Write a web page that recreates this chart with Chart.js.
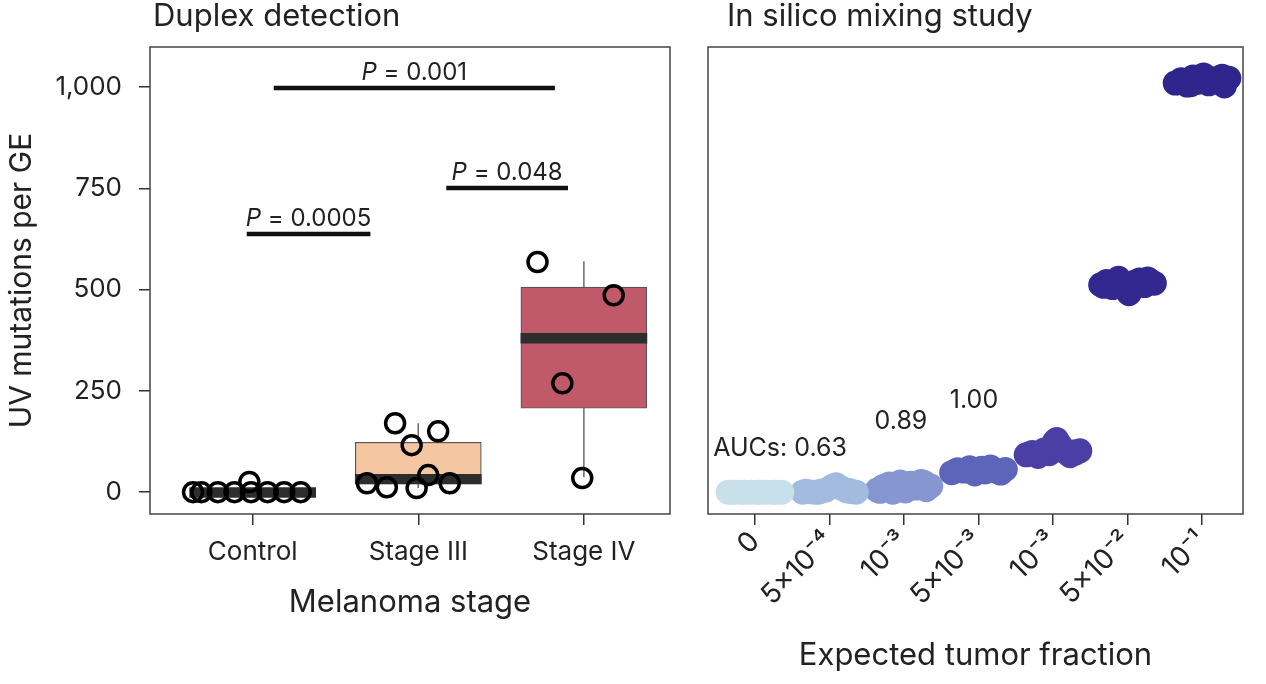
<!DOCTYPE html>
<html>
<head>
<meta charset="utf-8">
<script src="https://cdn.jsdelivr.net/npm/chart.js@4.4.1/dist/chart.umd.min.js"></script>
<style>
  html, body { margin: 0; background: #fff; }
  #wrap { position: relative; width: 1266px; height: 684px; }
  .panel { position: absolute; top: 0; height: 684px; }
  #left { left: 0; width: 690px; }
  #right { left: 690px; width: 576px; }
</style>
</head>
<body>
<div id="wrap">
  <div class="panel" id="left"><canvas id="leftChart"></canvas></div>
  <div class="panel" id="right"><canvas id="rightChart"></canvas></div>
</div>
<script>
// ---- left panel: duplex detection ----
const stages = ['Control', 'Stage III', 'Stage IV'];
const yTicks = [0, 250, 500, 750, 1000];

// jittered sample points (x in category units, 1 = Control)
const controlX = [0.64, 0.69, 0.79, 0.89, 0.98, 0.99, 1.09, 1.19, 1.29];
const controlY = [0, 0, 0, 0, 25, 0, 0, 0, 0];
const stage3X = [1.86, 2.12, 1.96, 2.06, 1.69, 1.81, 1.99, 2.19];
const stage3Y = [170, 150, 116, 42, 22, 12, 10, 22];
const stage4X = [2.72, 3.18, 2.87, 2.99];
const stage4Y = [568, 486, 269, 35];

// box summaries
const boxLow = [0, 20, 207];
const boxHigh = [5, 123, 506];
const medians = [-1, 32, 380];
const whiskerMin = [0, 10, 37];
const whiskerMax = [5, 170, 570];

// significance brackets
const pValues = ['0.0005', '0.048', '0.001'];
const pFrom = [0.964, 2.169, 1.127];
const pTo = [1.711, 2.904, 2.825];
const pLevel = [637, 751, 998];

// ---- right panel: in silico mixing ----
const fractions = ['0', '5×10⁻⁴', '10⁻³', '5×10⁻³', '10⁻³', '5×10⁻²', '10⁻¹'];
const jitter = [-0.36, -0.28, -0.2, -0.12, -0.05, 0.02, 0.09, 0.16, 0.23, 0.3, 0.36, -0.32, 0.27, 0.05, -0.15];
const mix0 = [0, 0, 0, 0, 0, 0, 0, 0, 0, 0, 0, 0, 0, 0, 0];
const mix1 = [0, 1, 0, 2, 5, 12, 18, 10, 3, 1, 0, 2, 4, 15, 0];
const mix2 = [5, 14, 20, 8, 25, 3, 22, 10, 26, 6, 15, 2, 24, 18, 0];
const mix3 = [48, 55, 52, 60, 45, 58, 50, 62, 54, 47, 56, 51, 49, 59, 53];
const mix4 = [92, 98, 88, 104, 95, 125, 118, 100, 90, 96, 102, 94, 99, 130, 97];
const mix5 = [512, 520, 505, 528, 515, 490, 518, 524, 510, 522, 516, 508, 526, 500, 519];
const mix6 = [1010, 1018, 1005, 1025, 1012, 1030, 1008, 1020, 1015, 1003, 1022, 1011, 1027, 1016, 1006];
const aucLabels = ['AUCs: 0.63', '0.89', '1.00'];

const FONT = 'Inter, "Open Sans", sans-serif';
const INK = '#222';
const boxColors = ['#d0d0d0', '#f4c6a2', '#c05a6b'];
const mixColors = ['#c8e0ea', '#a4bbe0', '#8696d0', '#5d65ba', '#4b3fa6', '#33288f', '#2f268d'];

const toPts = (xs, ys) => xs.map((x, i) => ({ x: x, y: ys[i] }));

const framePlugin = {
  id: 'frame',
  afterDatasetsDraw(chart) {
    const { ctx, chartArea: a } = chart;
    ctx.save();
    ctx.strokeStyle = '#444';
    ctx.lineWidth = 1.5;
    ctx.strokeRect(a.left, a.top, a.right - a.left, a.bottom - a.top);
    ctx.restore();
  }
};

function panelTitle(text, dx) {
  return {
    id: 'panelTitle',
    afterDraw(chart) {
      const ctx = chart.ctx;
      ctx.save();
      ctx.font = '31px ' + FONT;
      ctx.fillStyle = INK;
      ctx.textBaseline = 'middle';
      ctx.fillText(text, chart.chartArea.left + dx, 17);
      ctx.restore();
    }
  };
}

const pTextPlugin = {
  id: 'pText',
  afterDatasetsDraw(chart) {
    const { ctx, scales } = chart;
    ctx.save();
    ctx.fillStyle = INK;
    ctx.textBaseline = 'alphabetic';
    pValues.forEach((p, i) => {
      const cx = scales.x.getPixelForValue((pFrom[i] + pTo[i]) / 2);
      const y = scales.y.getPixelForValue(pLevel[i]) - 8;
      ctx.font = 'italic 24px ' + FONT;
      const w1 = ctx.measureText('P').width;
      ctx.font = '24px ' + FONT;
      const rest = ' = ' + p;
      const w2 = ctx.measureText(rest).width;
      const x = cx - (w1 + w2) / 2;
      ctx.font = 'italic 24px ' + FONT;
      ctx.fillText('P', x, y);
      ctx.font = '24px ' + FONT;
      ctx.fillText(rest, x + w1, y);
    });
    ctx.restore();
  }
};

const aucPlugin = {
  id: 'auc',
  afterDatasetsDraw(chart) {
    const { ctx, scales } = chart;
    const spots = [[-0.56, 108, 'left'], [1.96, 175, 'center'], [2.94, 227, 'center']];
    ctx.save();
    ctx.fillStyle = INK;
    ctx.font = '25px ' + FONT;
    ctx.textBaseline = 'middle';
    aucLabels.forEach((t, i) => {
      ctx.textAlign = spots[i][2];
      ctx.fillText(t, scales.x.getPixelForValue(spots[i][0]), scales.y.getPixelForValue(spots[i][1]));
    });
    ctx.restore();
  }
};

function leftChart() {
  const whiskerData = [];
  stages.forEach((s, i) => {
    whiskerData.push({ x: i + 1, y: whiskerMin[i] }, { x: i + 1, y: whiskerMax[i] }, { x: i + 1, y: null });
  });
  const bracketSets = pValues.map((p, i) => ({
    type: 'line',
    data: [{ x: pFrom[i], y: pLevel[i] }, { x: pTo[i], y: pLevel[i] }],
    borderColor: '#111',
    borderWidth: 4.5,
    pointRadius: 0,
    order: 0
  }));

  new Chart(document.getElementById('leftChart'), {
    type: 'scatter',
    data: {
      datasets: [
        {
          type: 'line',
          data: whiskerData,
          borderColor: '#6a6a6a',
          borderWidth: 1.5,
          pointRadius: 0,
          spanGaps: false,
          order: 4
        },
        {
          type: 'bar',
          data: stages.map((s, i) => ({ x: i + 1, y: [boxLow[i], boxHigh[i]] })),
          backgroundColor: boxColors,
          borderColor: '#555',
          borderWidth: 1.2,
          borderSkipped: false,
          barThickness: 126,
          grouped: false,
          order: 3
        },
        {
          type: 'bar',
          data: stages.map((s, i) => ({ x: i + 1, y: [medians[i] - 12, medians[i] + 12] })),
          backgroundColor: '#2d2d2d',
          borderWidth: 0,
          barThickness: 126,
          grouped: false,
          order: 2
        },
        {
          data: toPts(controlX, controlY).concat(toPts(stage3X, stage3Y), toPts(stage4X, stage4Y)),
          pointRadius: 9.5,
          pointBorderWidth: 3.5,
          borderColor: '#000',
          backgroundColor: 'rgba(0,0,0,0)',
          order: 1
        },
        ...bracketSets
      ]
    },
    options: {
      responsive: true,
      maintainAspectRatio: false,
      animation: false,
      layout: { padding: { top: 47, right: 20, left: 0, bottom: 63 } },
      plugins: { legend: { display: false }, tooltip: { enabled: false } },
      scales: {
        x: {
          type: 'linear',
          min: 0.38,
          max: 3.52,
          offset: false,
          afterBuildTicks: s => { s.ticks = stages.map((c, i) => ({ value: i + 1 })); },
          afterFit: s => { s.height = 107; },
          grid: { offset: false, drawOnChartArea: false, tickLength: 11, color: '#333', lineWidth: 1.5 },
          border: { display: false },
          ticks: {
            padding: 12,
            color: INK,
            font: { family: FONT, size: 26 },
            maxRotation: 0,
            callback: v => stages[Math.round(v) - 1]
          },
          title: {
            display: true,
            text: 'Melanoma stage',
            color: INK,
            font: { family: FONT, size: 31 },
            padding: 0
          }
        },
        y: {
          min: -54,
          max: 1099,
          afterBuildTicks: s => { s.ticks = yTicks.map(v => ({ value: v })); },
          afterFit: s => { s.width = 150; },
          grid: { drawOnChartArea: false, tickLength: 11, color: '#333', lineWidth: 1.5 },
          border: { display: false },
          ticks: {
            padding: 17,
            color: INK,
            font: { family: FONT, size: 26 },
            callback: v => v.toLocaleString('en-US')
          },
          title: {
            display: true,
            text: 'UV mutations per GE',
            color: INK,
            font: { family: FONT, size: 30 },
            padding: { top: 4, bottom: 0 }
          }
        }
      }
    },
    plugins: [framePlugin, pTextPlugin, panelTitle('Duplex detection', 3)]
  });
}

function rightChart() {
  const mixes = [mix0, mix1, mix2, mix3, mix4, mix5, mix6];
  new Chart(document.getElementById('rightChart'), {
    type: 'scatter',
    data: {
      datasets: mixes.map((vals, k) => ({
        data: vals.map((v, i) => ({ x: k + jitter[i], y: v })),
        pointRadius: 11,
        pointBorderWidth: 3,
        borderColor: mixColors[k],
        backgroundColor: mixColors[k]
      }))
    },
    options: {
      responsive: true,
      maintainAspectRatio: false,
      animation: false,
      layout: { padding: { top: 47, right: 23, left: 18, bottom: 10 } },
      plugins: { legend: { display: false }, tooltip: { enabled: false } },
      scales: {
        x: {
          type: 'linear',
          min: -0.63,
          max: 6.55,
          afterBuildTicks: s => { s.ticks = fractions.map((f, i) => ({ value: i })); },
          afterFit: s => { s.height = 160; },
          grid: { drawOnChartArea: false, tickLength: 11, color: '#333', lineWidth: 1.5 },
          border: { display: false },
          ticks: {
            padding: 0,
            color: INK,
            font: { family: FONT, size: 28 },
            minRotation: 45,
            maxRotation: 45,
            autoSkip: false,
            callback: v => fractions[Math.round(v)]
          },
          title: {
            display: true,
            text: 'Expected tumor fraction',
            color: INK,
            font: { family: FONT, size: 31 },
            padding: 0
          }
        },
        y: {
          display: false,
          min: -54,
          max: 1099
        }
      }
    },
    plugins: [framePlugin, aucPlugin, panelTitle('In silico mixing study', 19)]
  });
}

document.addEventListener('DOMContentLoaded', () => {
  leftChart();
  rightChart();
});
</script>
</body>
</html>
